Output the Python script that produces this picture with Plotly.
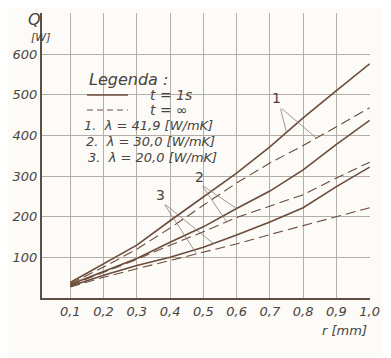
import numpy as np
import plotly.graph_objects as go

# ---- data ----
r_mm = [0.1, 0.2, 0.3, 0.4, 0.5, 0.6, 0.7, 0.8, 0.9, 1.0]
q1_t1s = [38, 83, 130, 190, 248, 307, 372, 443, 510, 576]
q1_inf = [35, 76, 120, 172, 228, 283, 332, 375, 421, 468]
q2_t1s = [33, 66, 97, 137, 175, 220, 263, 315, 378, 437]
q2_inf = [31, 62, 95, 130, 163, 198, 226, 254, 295, 334]
q3_t1s = [29, 56, 80, 100, 125, 155, 187, 222, 274, 322]
q3_inf = [27, 51, 72, 92, 112, 133, 156, 178, 200, 222]

x_ticks = [0.1, 0.2, 0.3, 0.4, 0.5, 0.6, 0.7, 0.8, 0.9, 1.0]
x_labels = ["0,1", "0,2", "0,3", "0,4", "0,5", "0,6", "0,7", "0,8", "0,9", "1,0"]
y_ticks = [100, 200, 300, 400, 500, 600, 700]
y_labels = ["100", "200", "300", "400", "500", "600", ""]

legend_title = "Legenda :"
legend_solid = "t = 1s"
legend_dash = "t = ∞"
lambda_lines = ["1.  λ = 41,9 [W/mK]", "2.  λ = 30,0 [W/mK]", "3.  λ = 20,0 [W/mK]"]

INK = "#6b4c3b"
GRID = "#b3aea8"
TXT = "#4a4440"
FONT = "DejaVu Sans"

OFF = 8  # page body margin
W, H = 391 - OFF, 358 - OFF
ML, MR, MT, MB = 42 - OFF, 21, 13 - OFF, 60
PW, PH = W - ML - MR, H - MT - MB


def px(x):
    return (x - OFF - ML) / PW


def py(y):
    return 1 - (y - OFF - MT) / PH


fig = go.Figure()
series = [
    (q1_t1s, "solid", 1.6), (q1_inf, "10px,5px", 1.1),
    (q2_t1s, "solid", 1.6), (q2_inf, "10px,5px", 1.1),
    (q3_t1s, "solid", 1.6), (q3_inf, "10px,5px", 1.1),
]
for ys, dash, w in series:
    fig.add_trace(go.Scatter(x=r_mm, y=ys, mode="lines", showlegend=False,
                             line=dict(color=INK, width=w, dash=dash)))

ann = []
shapes = []
ifont = dict(family=FONT, size=14, color=TXT, style="italic")

# legend block
ann.append(dict(xref="paper", yref="paper", x=px(87), y=py(79), text=legend_title,
                showarrow=False, xanchor="left", yanchor="middle",
                font=dict(family=FONT, size=16, color=TXT, style="italic")))
shapes.append(dict(type="line", xref="paper", yref="paper", x0=px(87), x1=px(128),
                   y0=py(95), y1=py(95), line=dict(color=INK, width=1.6)))
shapes.append(dict(type="line", xref="paper", yref="paper", x0=px(87), x1=px(128),
                   y0=py(110), y1=py(110), line=dict(color=INK, width=1.1, dash="6px,4px")))
ann.append(dict(xref="paper", yref="paper", x=px(148), y=py(95), text=legend_solid,
                showarrow=False, xanchor="left", yanchor="middle", font=ifont))
ann.append(dict(xref="paper", yref="paper", x=px(148), y=py(110), text=legend_dash,
                showarrow=False, xanchor="left", yanchor="middle", font=ifont))
for i, t in enumerate(lambda_lines):
    ann.append(dict(xref="paper", yref="paper", x=px(82 + 2 * i), y=py(125 + 16 * i), text=t,
                    showarrow=False, xanchor="left", yanchor="middle",
                    font=dict(family=FONT, size=13, color=TXT, style="italic")))

# axis titles
ann.append(dict(xref="paper", yref="paper", x=px(26), y=py(20), text="Q", showarrow=False,
                yanchor="middle", font=dict(family=FONT, size=16, color=TXT, style="italic")))
ann.append(dict(xref="paper", yref="paper", x=px(29), y=py(37), text="[W]", showarrow=False,
                yanchor="middle", font=dict(family=FONT, size=11, color=TXT, style="italic")))
ann.append(dict(xref="paper", yref="paper", x=px(369), y=py(330), text="r [mm]", showarrow=False,
                xanchor="right", yanchor="middle",
                font=dict(family=FONT, size=13, color=TXT, style="italic")))

# curve labels with leader lines
labels = [
    ("1", 0.719, 491, 0.731, 469, [(q1_t1s, 0.75), (q1_inf, 0.84)]),
    ("2", 0.487, 298, 0.495, 278, [(q2_t1s, 0.60), (q2_inf, 0.57)]),
    ("3", 0.372, 253, 0.381, 233, [(q3_t1s, 0.53), (q3_inf, 0.48)]),
]
for txt, lx, ly, tx, ty, targets in labels:
    ann.append(dict(x=lx, y=ly, text=txt, showarrow=False,
                    font=dict(family=FONT, size=14, color=TXT)))
    for ys, rx in targets:
        ann.append(dict(x=rx, y=float(np.interp(rx, r_mm, ys)), ax=tx, ay=ty,
                        axref="x", ayref="y", text="", showarrow=True,
                        arrowhead=0, arrowwidth=0.8, arrowcolor="#8a7d74"))

fig.update_layout(
    width=W, height=H,
    margin=dict(l=ML, r=MR, t=MT, b=MB, autoexpand=False),
    paper_bgcolor="#fcfbf7", plot_bgcolor="#fcfbf7",
    annotations=ann, shapes=shapes,
    xaxis=dict(range=[0.015, 1.001], tickvals=x_ticks, ticktext=x_labels,
               automargin=False,
               showgrid=True, gridcolor=GRID, gridwidth=1, zeroline=False,
               showline=True, linecolor="#5e4e44", linewidth=2, ticks="",
               tickfont=dict(family=FONT, size=13, color=TXT, style="italic")),
    yaxis=dict(range=[0, 701], tickvals=y_ticks, ticktext=y_labels,
               automargin=False,
               showgrid=True, gridcolor=GRID, gridwidth=1, zeroline=False,
               showline=True, linecolor="#5e4e44", linewidth=2, ticks="",
               tickfont=dict(family=FONT, size=13, color=TXT, style="italic")),
)

fig.write_html("out.html")
